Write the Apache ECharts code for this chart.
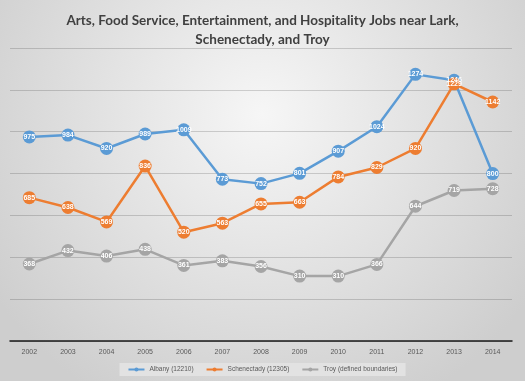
<!DOCTYPE html>
<html><head><meta charset="utf-8">
<script src="https://cdn.jsdelivr.net/npm/echarts@6/dist/echarts.min.js"></script>
<style>html,body{margin:0;padding:0;}#c{width:525px;height:381px;}</style>
</head><body><div id="c"></div>
<script>
var years = ['2002','2003','2004','2005','2006','2007','2008','2009','2010','2011','2012','2013','2014'];
var albany = [975, 984, 920, 989, 1009, 773, 752, 801, 907, 1024, 1274, 1246, 800];
var schenectady = [685, 638, 569, 836, 520, 563, 655, 663, 784, 829, 920, 1229, 1142];
var troy = [368, 432, 406, 438, 361, 383, 356, 310, 310, 366, 644, 719, 728];
var names = ['Albany (12210)', 'Schenectady (12305)', 'Troy (defined boundaries)'];
var colors = ['#5b9bd5', '#ed7d31', '#a5a5a5'];

function mk(name, data, color) {
  return {
    name: name, type: 'line', data: data,
    symbol: 'circle', symbolSize: 13,
    lineStyle: {width: 2.5, color: color},
    itemStyle: {color: color},
    label: {show: true, position: 'inside', color: '#ffffff', fontSize: 7, fontWeight: 'bold',
            fontFamily: 'Liberation Sans'}
  };
}
var chart = echarts.init(document.getElementById('c'));
chart.setOption({
  animation: false,
  backgroundColor: {type: 'radial', x: 0.5, y: 0.3, r: 0.85,
    colorStops: [{offset: 0, color: '#f6f6f6'}, {offset: 1, color: '#cecece'}]},
  color: colors,
  title: {
    text: 'Arts, Food Service, Entertainment, and Hospitality Jobs near Lark,\nSchenectady, and Troy',
    left: 'center', top: 6,
    textStyle: {fontFamily: 'Lato', fontWeight: 'bold', fontSize: 13.5, color: '#404040', lineHeight: 19}
  },
  legend: {
    bottom: 5, left: 'center',
    data: names,
    itemWidth: 16, itemHeight: 5, itemGap: 12,
    backgroundColor: '#e2e2e2', padding: [3, 8],
    textStyle: {fontSize: 6.5, color: '#595959', fontFamily: 'Liberation Sans'}
  },
  grid: {left: 10, right: 13, top: 48, bottom: 40},
  xAxis: {
    type: 'category', data: years, boundaryGap: true,
    axisLine: {lineStyle: {color: '#1a1a1a', width: 1.5}},
    axisTick: {show: false},
    axisLabel: {fontSize: 7, color: '#595959', margin: 8, fontFamily: 'Liberation Sans'}
  },
  yAxis: {
    type: 'value', min: 0, max: 1400, interval: 200,
    axisLabel: {show: false}, axisLine: {show: false}, axisTick: {show: false},
    splitLine: {lineStyle: {color: 'rgba(0,0,0,0.16)', width: 1}}
  },
  series: [mk(names[0], albany, colors[0]), mk(names[1], schenectady, colors[1]), mk(names[2], troy, colors[2])]
});
</script></body></html>
